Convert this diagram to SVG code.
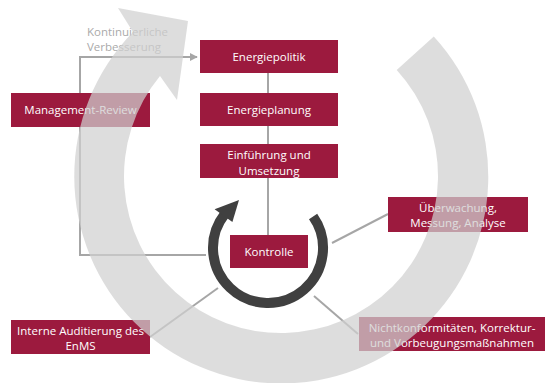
<svg xmlns="http://www.w3.org/2000/svg" width="545" height="383" viewBox="0 0 545 383">
<defs>
<style>
.box{fill:#9c1a3e;}
.t{font-family:"Open Sans","Liberation Sans",sans-serif;font-size:11.5px;fill:#ffffff;text-anchor:middle;}
.lbl{font-family:"Open Sans","Liberation Sans",sans-serif;font-size:11.5px;fill:#aaaaaa;}
.con{fill:none;stroke:#a6a6a6;stroke-width:2;}
</style>
<marker id="ah" viewBox="0 0 10 10" refX="9" refY="5" markerWidth="4" markerHeight="4" orient="auto" markerUnits="strokeWidth">
<path d="M0,0 L10,5 L0,10 Z" fill="#a6a6a6"/>
</marker>
</defs>
<rect width="545" height="383" fill="#ffffff"/>
<g id="connectors">
<line class="con" x1="268" y1="73" x2="268" y2="93"/>
<line class="con" x1="268" y1="126" x2="268" y2="144"/>
<line class="con" x1="268" y1="178" x2="268" y2="235"/>
<polyline class="con" points="206,255 80,255 80,127"/>
<polyline class="con" points="80,93 80,57 197,57" marker-end="url(#ah)"/>
<line class="con" x1="332" y1="243" x2="388" y2="214"/>
<line class="con" x1="314" y1="296" x2="358" y2="334"/>
<line class="con" x1="218" y1="288" x2="150" y2="337"/>
</g>
<g id="energiepolitik"><rect class="box" x="200" y="40" width="138" height="33"/><text class="t" x="269" y="60.5">Energiepolitik</text></g>
<g id="energieplanung"><rect class="box" x="200" y="93" width="138" height="33"/><text class="t" x="269" y="113.5">Energieplanung</text></g>
<g id="einfuehrung"><rect class="box" x="200" y="144" width="138" height="34"/><text class="t" x="269" y="159">Einführung und</text><text class="t" x="269" y="175">Umsetzung</text></g>
<g id="management-review"><rect class="box" x="11" y="93" width="139" height="34"/><text class="t" x="80.5" y="114">Management-Review</text></g>
<g id="kontrolle"><rect class="box" x="230" y="235" width="78" height="33"/><text class="t" x="269" y="255.5">Kontrolle</text></g>
<g id="ueberwachung"><rect class="box" x="388" y="197" width="140" height="35"/><text class="t" x="458" y="212">Überwachung,</text><text class="t" x="458" y="227">Messung, Analyse</text></g>
<g id="nichtkonformitaeten"><rect class="box" x="359" y="317" width="186" height="34"/><text class="t" x="452" y="331.5">Nichtkonformitäten, Korrektur-</text><text class="t" x="452" y="347">und Vorbeugungsmaßnahmen</text></g>
<g id="auditierung"><rect class="box" x="11" y="320" width="139" height="34"/><text class="t" x="80.5" y="334.5">Interne Auditierung des</text><text class="t" x="80.5" y="349.5">EnMS</text></g>
<g id="kontrolle-ring">
<path d="M313.1,216.5 A55 55 0 1 1 224.7,214.1" fill="none" stroke="#404040" stroke-width="10"/>
<polygon points="214.6,209.2 239,200 232.4,222.1" fill="#404040"/>
</g>
<g id="kontinuierliche-verbesserung">
<text class="lbl" x="87" y="36">Kontinuierliche</text>
<text class="lbl" x="87" y="51">Verbesserung</text>
</g>
<g id="pdca-arrow">
<path d="M433.8,36.5 A207 207 0 1 1 133,32 L118,8 L188,21 L177,100 L160,76 A157 157 0 1 0 396.7,69.9 Z" fill="#d0d0d0" fill-opacity="0.72"/>
</g>
</svg>
